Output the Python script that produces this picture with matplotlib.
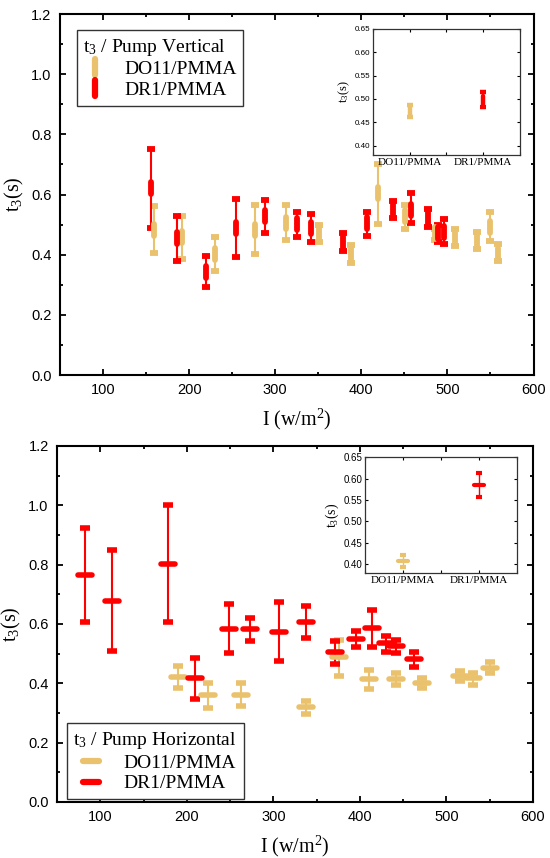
import matplotlib
matplotlib.use("Agg")
import matplotlib.pyplot as plt
import numpy as np
from matplotlib.lines import Line2D
from matplotlib.markers import MarkerStyle
from matplotlib.ticker import MultipleLocator

# pump vertical
v_do11_x = [159.3, 191.5, 229.9, 276, 312, 350.3, 388.4, 419, 451, 486, 509.3, 534.5, 549, 559]
v_do11_y = [0.482, 0.460, 0.404, 0.482, 0.506, 0.471, 0.402, 0.604, 0.529, 0.471, 0.458, 0.449, 0.493, 0.404]
v_do11_hi = [0.562, 0.530, 0.458, 0.564, 0.565, 0.499, 0.432, 0.701, 0.565, 0.485, 0.485, 0.476, 0.541, 0.434]
v_do11_lo = [0.407, 0.386, 0.347, 0.401, 0.449, 0.443, 0.371, 0.501, 0.485, 0.449, 0.429, 0.419, 0.445, 0.379]

v_dr1_x = [155.8, 185.7, 219.4, 255, 287.6, 325, 341, 378.6, 406.6, 436.4, 458, 477.5, 488.8, 495.7]
v_dr1_y = [0.621, 0.454, 0.343, 0.488, 0.529, 0.502, 0.488, 0.443, 0.504, 0.551, 0.549, 0.521, 0.471, 0.476]
v_dr1_hi = [0.751, 0.529, 0.396, 0.584, 0.582, 0.543, 0.534, 0.471, 0.542, 0.579, 0.604, 0.551, 0.499, 0.518]
v_dr1_lo = [0.490, 0.380, 0.294, 0.393, 0.471, 0.460, 0.443, 0.414, 0.462, 0.521, 0.504, 0.491, 0.441, 0.436]

# pump horizontal
h_do11_x = [189.5, 225, 262.5, 337.6, 375.8, 411, 442, 472, 515.5, 530.2, 550]
h_do11_y = [0.420, 0.362, 0.362, 0.319, 0.488, 0.414, 0.414, 0.400, 0.425, 0.417, 0.451]
h_do11_hi = [0.459, 0.400, 0.400, 0.340, 0.547, 0.445, 0.434, 0.417, 0.443, 0.436, 0.471]
h_do11_lo = [0.383, 0.317, 0.325, 0.298, 0.426, 0.380, 0.395, 0.385, 0.408, 0.395, 0.435]

h_dr1_x = [82.6, 113, 178.7, 210, 248.5, 272.5, 306, 338, 370.8, 395.3, 414, 429.9, 442, 462]
h_dr1_y = [0.765, 0.679, 0.803, 0.418, 0.583, 0.582, 0.574, 0.606, 0.505, 0.550, 0.586, 0.535, 0.526, 0.482]
h_dr1_hi = [0.922, 0.849, 1.0, 0.487, 0.666, 0.621, 0.675, 0.661, 0.544, 0.578, 0.646, 0.558, 0.547, 0.507]
h_dr1_lo = [0.608, 0.510, 0.605, 0.346, 0.502, 0.544, 0.474, 0.554, 0.465, 0.522, 0.524, 0.507, 0.502, 0.456]

# insets (mean values)
inset_labels = ["DO11/PMMA", "DR1/PMMA"]
inset_v_y = [0.474, 0.498]
inset_v_err = [0.013, 0.016]
inset_h_y = [0.407, 0.585]
inset_h_err = [0.014, 0.028]

YEL = "#EAC26E"
RED = "#FF0000"
SERIF = "Liberation Serif"
SANS = "Liberation Sans"

plt.rcParams["font.family"] = SANS
plt.rcParams["mathtext.fontset"] = "custom"
plt.rcParams["mathtext.rm"] = SERIF
plt.rcParams["mathtext.it"] = SERIF + ":italic"

vbar = MarkerStyle("|", capstyle="round")
hbar = MarkerStyle("_", capstyle="round")


def err(y, lo, hi):
    y, lo, hi = np.array(y), np.array(lo), np.array(hi)
    return [y - lo, hi - y]


def style_main(ax):
    ax.set_xlim(50, 600)
    ax.set_ylim(0, 1.2)
    ax.xaxis.set_major_locator(MultipleLocator(100))
    ax.xaxis.set_minor_locator(MultipleLocator(50))
    ax.yaxis.set_major_locator(MultipleLocator(0.2))
    ax.yaxis.set_minor_locator(MultipleLocator(0.1))
    ax.tick_params(which="both", direction="in", top=True, right=True, width=1.3,
                   labelsize=10.5, pad=6)
    ax.tick_params(which="major", length=4.5)
    ax.tick_params(which="minor", length=2.5)
    ax.set_yticks([0, 0.2, 0.4, 0.6, 0.8, 1.0, 1.2])
    ax.set_yticklabels(["0.0", "0.2", "0.4", "0.6", "0.8", "1.0", "1.2"])
    for s in ax.spines.values():
        s.set_linewidth(1.5)
    ax.set_xlabel("I (w/m$^2$)", fontsize=14.5, family=SERIF, labelpad=7)
    ax.set_ylabel("t$_3$(s)", fontsize=14.5, family=SERIF, labelpad=4)


def style_inset(ax, lsize, ylsize):
    ax.set_xlim(-0.5, 1.5)
    ax.set_ylim(0.38, 0.65)
    ax.set_xticks([0, 1])
    ax.set_xticklabels(inset_labels, family=SERIF, fontsize=8)
    ax.xaxis.set_minor_locator(MultipleLocator(0.5))
    ax.set_yticks([0.40, 0.45, 0.50, 0.55, 0.60, 0.65])
    ax.set_yticklabels(["0.40", "0.45", "0.50", "0.55", "0.60", "0.65"])
    ax.tick_params(which="both", direction="in", top=True, right=True, width=0.8,
                   length=2.5, pad=2)
    ax.tick_params(axis="y", labelsize=lsize)
    for s in ax.spines.values():
        s.set_linewidth(0.9)
        s.set_color("#333333")
    ax.set_ylabel("t$_3$(s)", fontsize=ylsize, family=SERIF, labelpad=2)


fig = plt.figure(figsize=(5.5, 8.58), dpi=100)

# ---------- top panel ----------
ax1 = fig.add_axes([0.109, 0.5629, 0.861, 0.4207])
ax1.errorbar(v_do11_x, v_do11_y, yerr=err(v_do11_y, v_do11_lo, v_do11_hi), color=YEL,
             linestyle="none", elinewidth=1.5, capsize=3, capthick=1.6,
             marker=vbar, markersize=8, markeredgewidth=4.2)
ax1.errorbar(v_dr1_x, v_dr1_y, yerr=err(v_dr1_y, v_dr1_lo, v_dr1_hi), color=RED,
             linestyle="none", elinewidth=1.5, capsize=3, capthick=1.6,
             marker=vbar, markersize=8, markeredgewidth=4.2)
style_main(ax1)
handles = [Line2D([], [], color=YEL, linestyle="none", marker=vbar, markersize=11, markeredgewidth=4.5),
           Line2D([], [], color=RED, linestyle="none", marker=vbar, markersize=11, markeredgewidth=4.5)]
leg = ax1.legend(handles, ["DO11/PMMA", "DR1/PMMA"], title="t$_3$ / Pump Vertical",
                 loc="upper left", bbox_to_anchor=(0.035, 0.956), borderaxespad=0,
                 prop={"family": SERIF, "size": 14}, title_fontproperties={"family": SERIF, "size": 14},
                 alignment="left", fancybox=False, edgecolor="#333333", framealpha=1,
                 handlelength=1.2, handletextpad=0.9, borderpad=0.35, labelspacing=0.15)
leg.get_frame().set_linewidth(1.0)

in1 = fig.add_axes([0.678, 0.8193, 0.267, 0.147])
for i, (c, yv, e) in enumerate(zip([YEL, RED], inset_v_y, inset_v_err)):
    in1.errorbar([i], [yv], yerr=[e], color=c, linestyle="none", elinewidth=1.0, capsize=2,
                 capthick=1.0, marker=vbar, markersize=5.5, markeredgewidth=3.2)
style_inset(in1, 5.8, 9)

# ---------- bottom panel ----------
ax2 = fig.add_axes([0.1036, 0.0653, 0.8655, 0.4149])
ax2.errorbar(h_do11_x, h_do11_y, yerr=err(h_do11_y, h_do11_lo, h_do11_hi), color=YEL,
             linestyle="none", elinewidth=1.5, capsize=3.3, capthick=1.6,
             marker=hbar, markersize=10, markeredgewidth=4)
ax2.errorbar(h_dr1_x, h_dr1_y, yerr=err(h_dr1_y, h_dr1_lo, h_dr1_hi), color=RED,
             linestyle="none", elinewidth=1.5, capsize=3.3, capthick=1.6,
             marker=hbar, markersize=10, markeredgewidth=4)
style_main(ax2)
handles = [Line2D([], [], color=YEL, linestyle="none", marker=hbar, markersize=11, markeredgewidth=4.5),
           Line2D([], [], color=RED, linestyle="none", marker=hbar, markersize=11, markeredgewidth=4.5)]
leg = ax2.legend(handles, ["DO11/PMMA", "DR1/PMMA"], title="t$_3$ / Pump Horizontal",
                 loc="lower left", bbox_to_anchor=(0.02, 0.008), borderaxespad=0,
                 prop={"family": SERIF, "size": 14}, title_fontproperties={"family": SERIF, "size": 14},
                 alignment="left", fancybox=False, edgecolor="#333333", framealpha=1,
                 handlelength=1.8, handletextpad=0.8, borderpad=0.35, labelspacing=0.15)
leg.get_frame().set_linewidth(1.0)

in2 = fig.add_axes([0.664, 0.3322, 0.276, 0.135])
for i, (c, yv, e) in enumerate(zip([YEL, RED], inset_h_y, inset_h_err)):
    in2.errorbar([i], [yv], yerr=[e], color=c, linestyle="none", elinewidth=1.0, capsize=2,
                 capthick=1.0, marker=hbar, markersize=7, markeredgewidth=3)
style_inset(in2, 7, 10)

fig.savefig("out.png", dpi=100)
